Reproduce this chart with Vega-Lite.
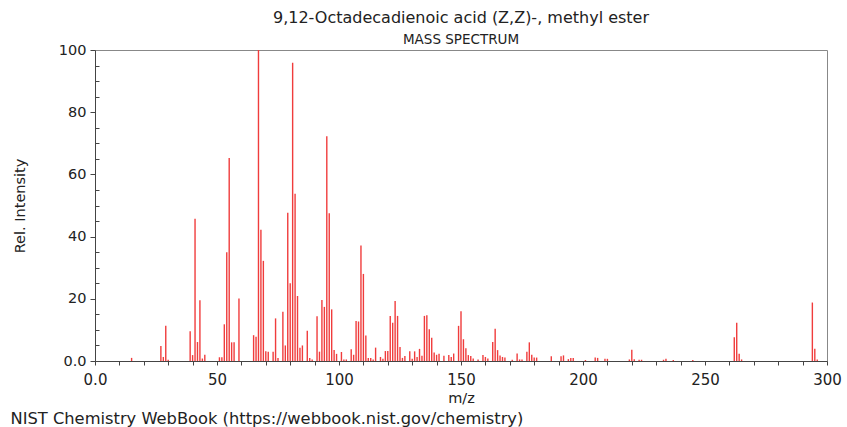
{
  "$schema": "https://vega.github.io/schema/vega-lite/v6.json",
  "autosize": "none",
  "width": 732,
  "height": 311,
  "padding": {"left": 95, "top": 50, "right": 20, "bottom": 66},
  "background": "white",
  "config": {
    "font": "DejaVu Sans",
    "view": {"stroke": "#888888", "strokeWidth": 1},
    "axis": {"labelFont": "DejaVu Sans", "titleFont": "DejaVu Sans", "labelColor": "#222222", "titleColor": "#222222", "domainColor": "#444444", "tickColor": "#444444", "grid": false, "labelFontSize": 14.5, "titleFontSize": 14.5, "titleFontWeight": "normal"}
  },
  "title": {
    "text": "9,12-Octadecadienoic acid (Z,Z)-, methyl ester",
    "subtitle": "MASS SPECTRUM",
    "anchor": "middle",
    "fontSize": 16,
    "fontWeight": "normal",
    "color": "#222222",
    "subtitleFontSize": 13.5,
    "subtitleColor": "#222222",
    "subtitlePadding": 7,
    "offset": -4,
    "font": "DejaVu Sans",
    "subtitleFont": "DejaVu Sans"
  },
  "datasets": {
    "spec": [
      {"mz": 15, "intensity": 1.0}, {"mz": 27, "intensity": 4.8}, {"mz": 28, "intensity": 1.3}, {"mz": 29, "intensity": 11.3}, {"mz": 30, "intensity": 0.4},
      {"mz": 39, "intensity": 9.6}, {"mz": 40, "intensity": 1.9}, {"mz": 41, "intensity": 45.7}, {"mz": 42, "intensity": 6.1}, {"mz": 43, "intensity": 19.5},
      {"mz": 44, "intensity": 0.8}, {"mz": 45, "intensity": 2.0}, {"mz": 51, "intensity": 1.2}, {"mz": 52, "intensity": 1.2}, {"mz": 53, "intensity": 11.8},
      {"mz": 54, "intensity": 35.0}, {"mz": 55, "intensity": 65.3}, {"mz": 56, "intensity": 6.0}, {"mz": 57, "intensity": 6.0}, {"mz": 59, "intensity": 20.1},
      {"mz": 65, "intensity": 8.3}, {"mz": 66, "intensity": 7.8}, {"mz": 67, "intensity": 100}, {"mz": 68, "intensity": 42.2}, {"mz": 69, "intensity": 32.2},
      {"mz": 70, "intensity": 3.1}, {"mz": 71, "intensity": 3.0}, {"mz": 73, "intensity": 3.0}, {"mz": 74, "intensity": 13.7}, {"mz": 75, "intensity": 1.0},
      {"mz": 77, "intensity": 15.8}, {"mz": 78, "intensity": 5.0}, {"mz": 79, "intensity": 47.7}, {"mz": 80, "intensity": 25.0}, {"mz": 81, "intensity": 95.9},
      {"mz": 82, "intensity": 53.8}, {"mz": 83, "intensity": 20.9}, {"mz": 84, "intensity": 4.3}, {"mz": 85, "intensity": 5.0}, {"mz": 87, "intensity": 9.7},
      {"mz": 88, "intensity": 1.0}, {"mz": 89, "intensity": 0.5}, {"mz": 91, "intensity": 14.4}, {"mz": 92, "intensity": 3.0}, {"mz": 93, "intensity": 19.6},
      {"mz": 94, "intensity": 17.4}, {"mz": 95, "intensity": 72.3}, {"mz": 96, "intensity": 47.5}, {"mz": 97, "intensity": 16.6}, {"mz": 98, "intensity": 3.5},
      {"mz": 99, "intensity": 2.3}, {"mz": 101, "intensity": 2.9}, {"mz": 102, "intensity": 0.5}, {"mz": 103, "intensity": 0.5}, {"mz": 105, "intensity": 3.8},
      {"mz": 106, "intensity": 2.0}, {"mz": 107, "intensity": 12.9}, {"mz": 108, "intensity": 12.7}, {"mz": 109, "intensity": 37.1}, {"mz": 110, "intensity": 28.0},
      {"mz": 111, "intensity": 8.2}, {"mz": 112, "intensity": 1.0}, {"mz": 113, "intensity": 1.0}, {"mz": 114, "intensity": 0.5}, {"mz": 115, "intensity": 4.3},
      {"mz": 117, "intensity": 1.3}, {"mz": 118, "intensity": 0.7}, {"mz": 119, "intensity": 3.2}, {"mz": 120, "intensity": 3.2}, {"mz": 121, "intensity": 14.5},
      {"mz": 122, "intensity": 12.3}, {"mz": 123, "intensity": 19.3}, {"mz": 124, "intensity": 14.5}, {"mz": 125, "intensity": 4.5}, {"mz": 126, "intensity": 1.0},
      {"mz": 127, "intensity": 1.6}, {"mz": 129, "intensity": 3.1}, {"mz": 130, "intensity": 0.7}, {"mz": 131, "intensity": 3.1}, {"mz": 132, "intensity": 1.3},
      {"mz": 133, "intensity": 3.9}, {"mz": 134, "intensity": 1.7}, {"mz": 135, "intensity": 14.5}, {"mz": 136, "intensity": 14.7}, {"mz": 137, "intensity": 10.2},
      {"mz": 138, "intensity": 7.5}, {"mz": 139, "intensity": 2.7}, {"mz": 140, "intensity": 2.0}, {"mz": 141, "intensity": 2.3}, {"mz": 143, "intensity": 1.7},
      {"mz": 145, "intensity": 1.9}, {"mz": 146, "intensity": 1.3}, {"mz": 147, "intensity": 2.4}, {"mz": 149, "intensity": 11.3}, {"mz": 150, "intensity": 16.0},
      {"mz": 151, "intensity": 7.0}, {"mz": 152, "intensity": 4.1}, {"mz": 153, "intensity": 1.9}, {"mz": 154, "intensity": 1.6}, {"mz": 155, "intensity": 0.8},
      {"mz": 157, "intensity": 0.5}, {"mz": 159, "intensity": 1.9}, {"mz": 160, "intensity": 1.3}, {"mz": 161, "intensity": 0.8}, {"mz": 163, "intensity": 6.1},
      {"mz": 164, "intensity": 10.4}, {"mz": 165, "intensity": 3.5}, {"mz": 166, "intensity": 1.8}, {"mz": 167, "intensity": 1.3}, {"mz": 168, "intensity": 1.1},
      {"mz": 171, "intensity": 0.4}, {"mz": 173, "intensity": 2.4}, {"mz": 174, "intensity": 0.5}, {"mz": 175, "intensity": 0.5}, {"mz": 177, "intensity": 3.0},
      {"mz": 178, "intensity": 6.0}, {"mz": 179, "intensity": 2.0}, {"mz": 180, "intensity": 1.1}, {"mz": 181, "intensity": 1.1}, {"mz": 187, "intensity": 1.5},
      {"mz": 191, "intensity": 1.5}, {"mz": 192, "intensity": 1.8}, {"mz": 194, "intensity": 0.6}, {"mz": 195, "intensity": 1.0}, {"mz": 196, "intensity": 1.0},
      {"mz": 201, "intensity": 0.3}, {"mz": 205, "intensity": 1.1}, {"mz": 206, "intensity": 1.0}, {"mz": 209, "intensity": 0.7}, {"mz": 210, "intensity": 0.7},
      {"mz": 219, "intensity": 0.5}, {"mz": 220, "intensity": 3.6}, {"mz": 221, "intensity": 0.6}, {"mz": 223, "intensity": 0.4}, {"mz": 224, "intensity": 0.4},
      {"mz": 233, "intensity": 0.4}, {"mz": 234, "intensity": 0.7}, {"mz": 237, "intensity": 0.3}, {"mz": 245, "intensity": 0.3}, {"mz": 262, "intensity": 7.6},
      {"mz": 263, "intensity": 12.3}, {"mz": 264, "intensity": 2.3}, {"mz": 265, "intensity": 0.5}, {"mz": 294, "intensity": 18.8}, {"mz": 295, "intensity": 3.9},
      {"mz": 296, "intensity": 0.5}
    ]
  },
  "data": {"name": "spec"},
  "layer": [
    {
      "mark": {"type": "rule", "color": "#f03c3c", "strokeWidth": 1.4},
      "encoding": {
        "x": {"field": "mz", "type": "quantitative", "scale": {"domain": [0, 300], "nice": false, "zero": false},
          "axis": {"title": "m/z", "values": [0,10,20,30,40,50,60,70,80,90,100,110,120,130,140,150,160,170,180,190,200,210,220,230,240,250,260,270,280,290,300],
            "labelExpr": "datum.value % 50 == 0 ? (datum.value == 0 ? '0.0' : format(datum.value, 'd')) : ''",
            "tickSize": 4, "labelPadding": 7, "titlePadding": 4, "labelFlush": false, "labelOverlap": false, "labelFontSize": 15}},
        "y": {"field": "intensity", "type": "quantitative", "scale": {"domain": [0, 100], "nice": false},
          "axis": {"title": "Rel. Intensity", "values": [0,20,40,60,80,100],
            "labelExpr": "datum.value == 0 ? '0.0' : format(datum.value, 'd')",
            "tickSize": 5, "labelPadding": 4, "titlePadding": 31, "labelFlush": false}},
        "y2": {"datum": 0}
      }
    },
    {
      "mark": {"type": "rule", "opacity": 0},
      "encoding": {
        "x": {"field": "mz", "type": "quantitative",
          "axis": {"title": "NIST Chemistry WebBook (https://webbook.nist.gov/chemistry)", "orient": "bottom", "labels": false, "ticks": false, "domain": false,
            "titleAnchor": "start", "titleAlign": "left", "titleX": -85, "titleY": 49, "titleFontSize": 16.3}},
        "y": {"field": "intensity", "type": "quantitative",
          "axis": {"orient": "left", "title": null, "labels": false, "domain": false, "values": [5,10,15,25,30,35,45,50,55,65,70,75,85,90,95], "tickSize": -4}},
        "y2": {"datum": 0}
      }
    }
  ],
  "resolve": {"axis": {"x": "independent", "y": "independent"}}
}
